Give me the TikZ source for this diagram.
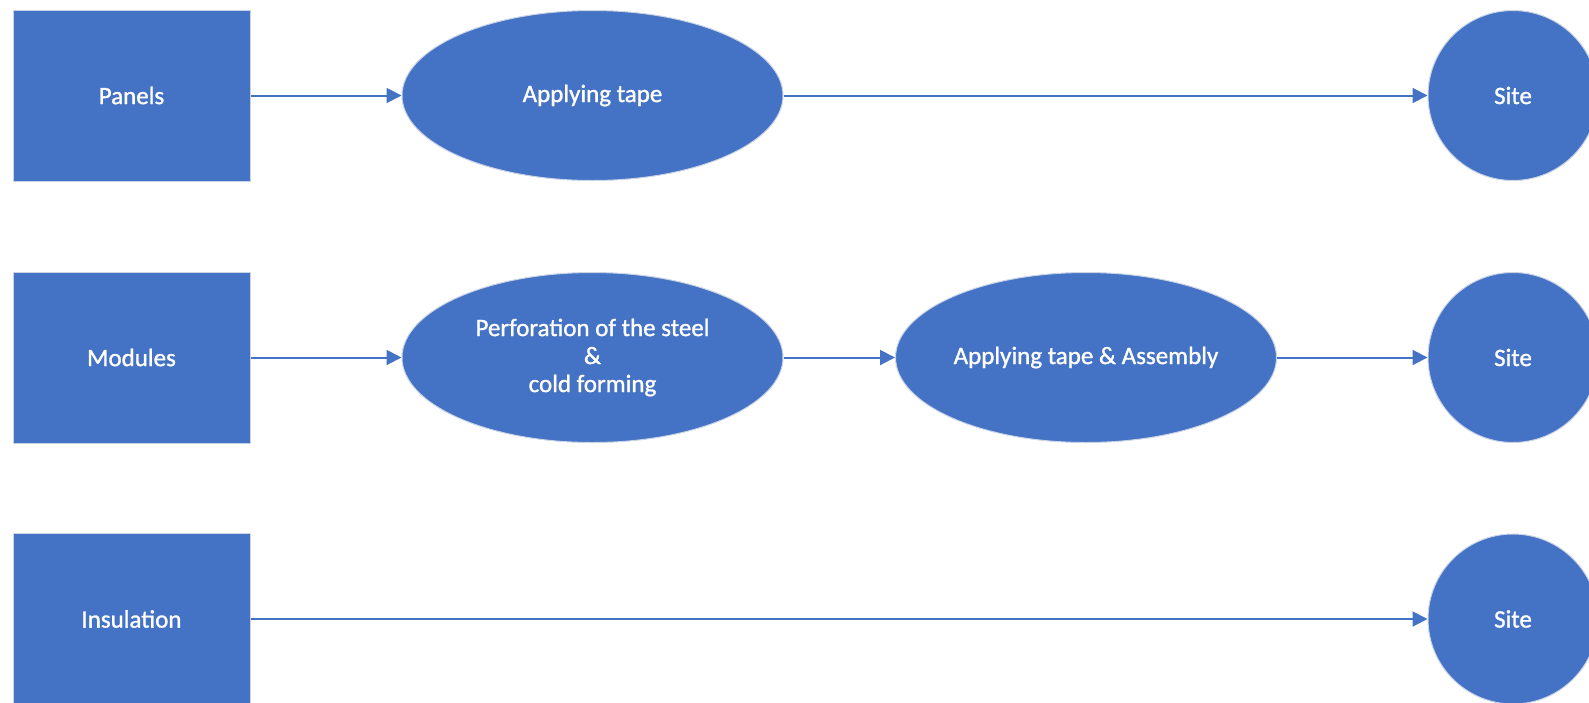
\documentclass[tikz,border=0pt]{standalone}
\usepackage{fontspec}
\setmainfont{Carlito}
\newfontfamily\boxfont[FakeBold=1.2]{Carlito}
\usetikzlibrary{arrows.meta,shapes.geometric}
\definecolor{ofblue}{HTML}{4472C4}
\definecolor{ofedge}{HTML}{C9D3E6}
\begin{document}
\begin{tikzpicture}[x=1pt,y=-1pt,
  shapebase/.style={fill=ofblue,draw=ofedge,line width=1pt,text=white,
    font=\boxfont\fontsize{25}{28}\selectfont,align=center,inner sep=0pt},
  srcbox/.style={shapebase,rectangle,minimum width=237pt,minimum height=171pt},
  procell/.style={shapebase,ellipse,minimum width=381pt,minimum height=170pt},
  sitecirc/.style={shapebase,circle,minimum size=170pt},
  flow/.style={draw=ofblue,line width=2pt,-{Triangle[length=15pt,width=15pt]}}]
\useasboundingbox (0,0) rectangle (1589,702);
\begin{scope}
\clip (0,0) rectangle (1589,702);
% row 1
\node[srcbox] (panels) at (131.5,95.5) {Panels};
\node[procell] (tape) at (592.5,95.5) {Applying tape};
\node[sitecirc] (site1) at (1513,95.5) {Site};
% row 2
\node[srcbox] (modules) at (131.5,357.5) {Modules};
\node[procell] (perf) at (592.5,357.5) {Perforation of the steel\\\&\\cold forming};
\node[procell] (assembly) at (1086,357.5) {Applying tape \& Assembly};
\node[sitecirc] (site2) at (1513,357.5) {Site};
% row 3
\node[srcbox] (insul) at (131.5,619) {Insulation};
\node[sitecirc] (site3) at (1513,619) {Site};
\end{scope}
\draw[flow] (panels.east |- tape) -- (tape.west);
\draw[flow] (tape.east) -- (site1.west);
\draw[flow] (modules.east |- perf) -- (perf.west);
\draw[flow] (perf.east) -- (assembly.west);
\draw[flow] (assembly.east) -- (site2.west);
\draw[flow] (insul.east |- site3) -- (site3.west);
\end{tikzpicture}
\end{document}
